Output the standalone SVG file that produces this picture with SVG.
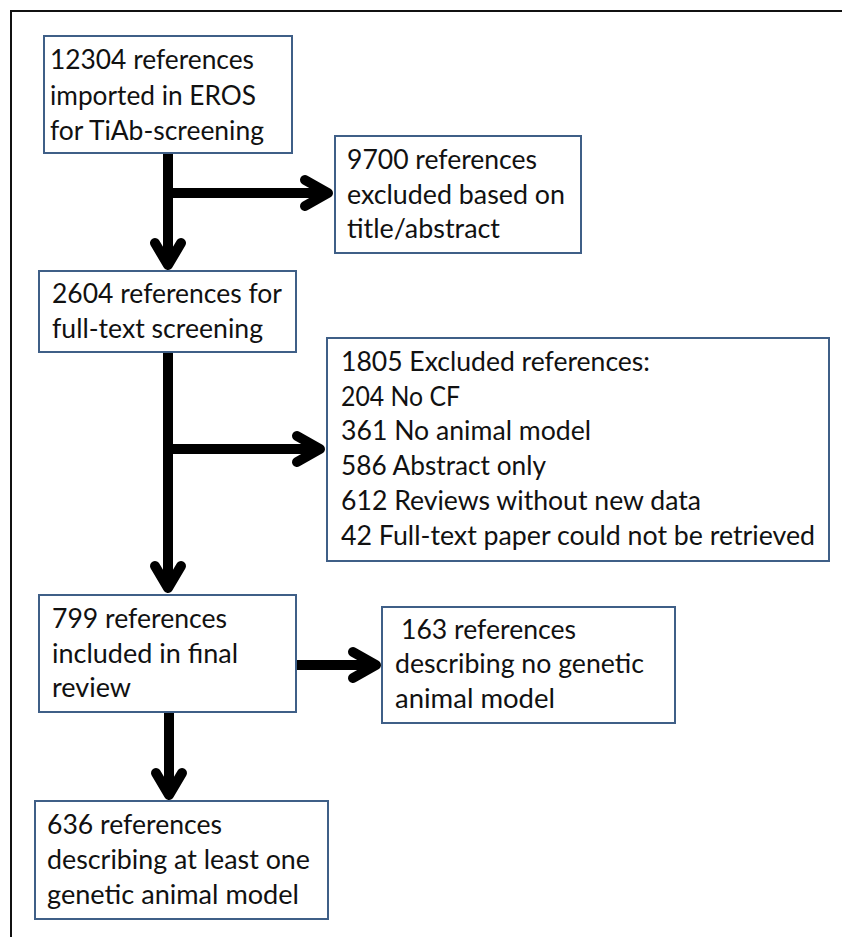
<svg xmlns="http://www.w3.org/2000/svg" width="842" height="937" viewBox="0 0 842 937">
<style>
.box{fill:#fff;stroke:#3f5f87;stroke-width:2}
.t{font-family:Lato,"Liberation Sans",sans-serif;font-size:27px;fill:#111}
.ln{fill:none;stroke:#000;stroke-width:10}
.hd{fill:none;stroke:#000;stroke-width:10;stroke-linecap:round;stroke-linejoin:round}
</style>
<rect width="842" height="937" fill="#fff"/>
<path d="M11,937 V11 H842" fill="none" stroke="#111" stroke-width="2"/>
<g id="connectors">
<path class="ln" d="M168,153 V264"/>
<path class="ln" d="M168,193 H326"/>
<path class="hd" d="M305,180 L328,193 L305,206"/>
<path class="hd" d="M155,243 L168,265 L181,243"/>
<path class="ln" d="M168,352 V587"/>
<path class="ln" d="M168,449 H318"/>
<path class="hd" d="M297,436 L320,449 L297,462"/>
<path class="hd" d="M155,566 L168,588 L181,566"/>
<path class="ln" d="M296,665 H374"/>
<path class="hd" d="M353,652 L376,665 L353,678"/>
<path class="ln" d="M169,712 V794"/>
<path class="hd" d="M156,773 L169,795 L182,773"/>
</g>
<g id="n1">
<rect class="box" x="44" y="36" width="248" height="117"/>
<text class="t" x="50" y="68.5" textLength="204" lengthAdjust="spacingAndGlyphs">12304 references</text>
<text class="t" x="50" y="104.5" textLength="206" lengthAdjust="spacingAndGlyphs">imported in EROS</text>
<text class="t" x="50" y="140" textLength="214" lengthAdjust="spacingAndGlyphs">for TiAb-screening</text>
</g>
<g id="n2">
<rect class="box" x="335" y="136" width="246" height="117"/>
<text class="t" x="347" y="169" textLength="190" lengthAdjust="spacingAndGlyphs">9700 references</text>
<text class="t" x="347" y="204" textLength="218" lengthAdjust="spacingAndGlyphs">excluded based on</text>
<text class="t" x="347" y="238" textLength="153" lengthAdjust="spacingAndGlyphs">title/abstract</text>
</g>
<g id="n3">
<rect class="box" x="39" y="271" width="257" height="81"/>
<text class="t" x="52" y="303" textLength="230" lengthAdjust="spacingAndGlyphs">2604 references for</text>
<text class="t" x="52" y="338" textLength="211" lengthAdjust="spacingAndGlyphs">full-text screening</text>
</g>
<g id="n4">
<rect class="box" x="327" y="338" width="502" height="223"/>
<text class="t" x="341" y="371" textLength="309" lengthAdjust="spacingAndGlyphs">1805 Excluded references:</text>
<text class="t" x="341" y="406" textLength="119" lengthAdjust="spacingAndGlyphs">204 No CF</text>
<text class="t" x="341" y="440" textLength="250" lengthAdjust="spacingAndGlyphs">361 No animal model</text>
<text class="t" x="341" y="475" textLength="205" lengthAdjust="spacingAndGlyphs">586 Abstract only</text>
<text class="t" x="341" y="510" textLength="360" lengthAdjust="spacingAndGlyphs">612 Reviews without new data</text>
<text class="t" x="341" y="545" textLength="474" lengthAdjust="spacingAndGlyphs">42 Full-text paper could not be retrieved</text>
</g>
<g id="n5">
<rect class="box" x="39" y="595" width="257" height="117"/>
<text class="t" x="52" y="628" textLength="175" lengthAdjust="spacingAndGlyphs">799 references</text>
<text class="t" x="52" y="663" textLength="186" lengthAdjust="spacingAndGlyphs">included in final</text>
<text class="t" x="52" y="697" textLength="79" lengthAdjust="spacingAndGlyphs">review</text>
</g>
<g id="n6">
<rect class="box" x="382" y="607" width="293" height="116"/>
<text class="t" x="401" y="639" textLength="175" lengthAdjust="spacingAndGlyphs">163 references</text>
<text class="t" x="395" y="673" textLength="249" lengthAdjust="spacingAndGlyphs">describing no genetic</text>
<text class="t" x="395" y="708" textLength="160" lengthAdjust="spacingAndGlyphs">animal model</text>
</g>
<g id="n7">
<rect class="box" x="35" y="801" width="293" height="118"/>
<text class="t" x="47" y="834" textLength="175" lengthAdjust="spacingAndGlyphs">636 references</text>
<text class="t" x="47" y="869" textLength="263" lengthAdjust="spacingAndGlyphs">describing at least one</text>
<text class="t" x="47" y="904" textLength="252" lengthAdjust="spacingAndGlyphs">genetic animal model</text>
</g>
</svg>
